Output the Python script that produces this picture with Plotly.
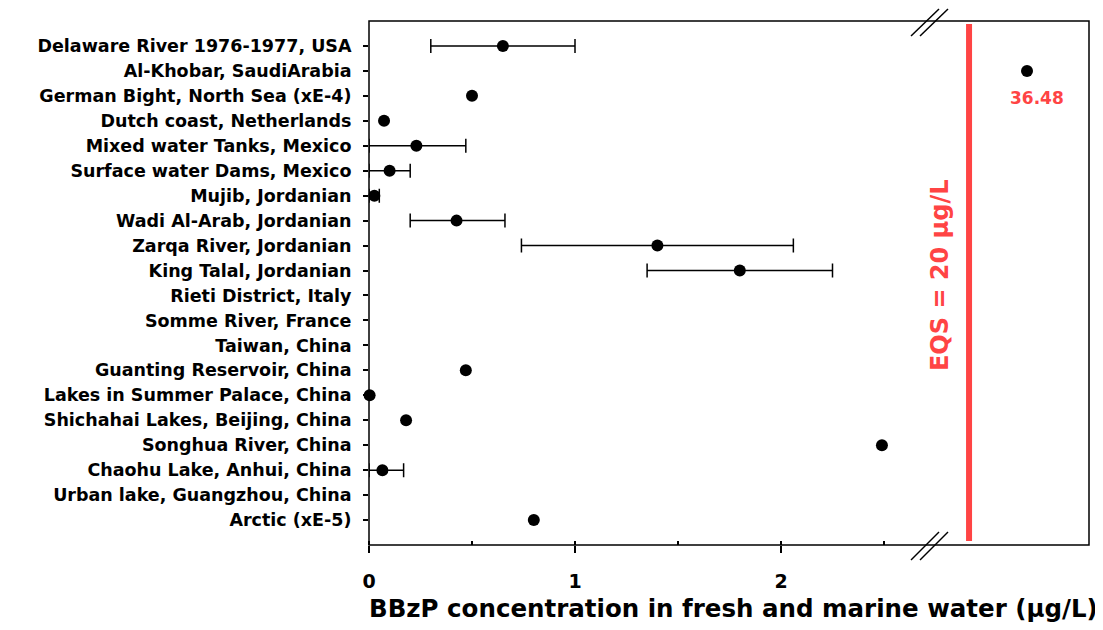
import plotly.graph_objects as go

sites = [
    "Delaware River 1976-1977, USA",
    "Al-Khobar, SaudiArabia",
    "German Bight, North Sea (xE-4)",
    "Dutch coast, Netherlands",
    "Mixed water Tanks, Mexico",
    "Surface water Dams, Mexico",
    "Mujib, Jordanian",
    "Wadi Al-Arab, Jordanian",
    "Zarqa River, Jordanian",
    "King Talal, Jordanian",
    "Rieti District, Italy",
    "Somme River, France",
    "Taiwan, China",
    "Guanting Reservoir, China",
    "Lakes in Summer Palace, China",
    "Shichahai Lakes, Beijing, China",
    "Songhua River, China",
    "Chaohu Lake, Anhui, China",
    "Urban lake, Guangzhou, China",
    "Arctic (xE-5)",
]
# mean values (None = no data); Al-Khobar drawn on the broken (upper) segment
mean_vals = [0.65, None, 0.50, 0.073, 0.23, 0.10, 0.026, 0.425, 1.40, 1.80,
             None, None, None, 0.47, 0.003, 0.18, 2.49, 0.065, None, 0.80]
err_plus = [0.35, 0, 0, 0, 0.24, 0.10, 0.024, 0.235, 0.66, 0.45,
            0, 0, 0, 0, 0, 0, 0, 0.103, 0, 0]
err_minus = [0.35, 0, 0, 0, 0.23, 0.10, 0.026, 0.225, 0.66, 0.45,
             0, 0, 0, 0, 0, 0, 0, 0.065, 0, 0]
high_site = "Al-Khobar, SaudiArabia"
high_val = 36.48
eqs_val = 20

RED = "#FF4444"
FONT = "DejaVu Sans, Arial, sans-serif"
idx = list(range(len(sites)))
high_idx = sites.index(high_site)

# split points with and without error bars
xe, ye, ep, em = [], [], [], []
xn, yn = [], []
for i, v in enumerate(mean_vals):
    if v is None:
        continue
    if err_plus[i] or err_minus[i]:
        xe.append(v); ye.append(i); ep.append(err_plus[i]); em.append(err_minus[i])
    else:
        xn.append(v); yn.append(i)

fig = go.Figure()
fig.add_trace(go.Scatter(
    x=xe, y=ye, mode="markers", xaxis="x", yaxis="y",
    marker=dict(color="black", size=12),
    error_x=dict(type="data", symmetric=False, array=ep, arrayminus=em,
                 color="black", thickness=1.5, width=7),
    showlegend=False, cliponaxis=False,
))
fig.add_trace(go.Scatter(
    x=xn, y=yn, mode="markers", xaxis="x", yaxis="y",
    marker=dict(color="black", size=12), showlegend=False, cliponaxis=False,
))
fig.add_trace(go.Scatter(
    x=[high_val], y=[high_idx], mode="markers", xaxis="x2", yaxis="y",
    marker=dict(color="black", size=12), showlegend=False,
))

# page body has an 8px margin; compensate
OFF = 8
d = (930 - 369) / 720
W, H = 720, 524

def px(xp):
    return (xp - 369) / W

def py(yp):
    return (545 - yp) / H

fig.update_layout(
    width=1103 - OFF, height=630 - OFF,
    margin=dict(l=369 - OFF, r=14, t=21 - OFF, b=85),
    paper_bgcolor="white", plot_bgcolor="white",
    font=dict(family=FONT, color="black"),
    xaxis=dict(domain=[0, d], range=[0, (930 - 369) / 206], showgrid=False,
               zeroline=False, tickvals=[0, 1, 2], ticktext=["0", "1", "2"],
               ticks="outside", ticklen=7, tickwidth=1.5, tickcolor="black",
               minor=dict(tick0=0, dtick=0.5, ticks="inside", ticklen=4,
                          tickwidth=1.5, tickcolor="black"),
               ticklabelstandoff=12,
               tickfont=dict(size=19, weight="bold"), anchor="y"),
    xaxis2=dict(domain=[d, 1], range=[8.9, 54.1], showgrid=False,
                zeroline=False, showticklabels=False, ticks="", anchor="y"),
    xaxis3=dict(overlaying="x", side="top", range=[0, (930 - 369) / 206],
                showgrid=False, zeroline=False, showticklabels=False,
                tickvals=[0.5, 1.5, 2.5], ticks="inside", ticklen=4,
                tickwidth=1.5, tickcolor="black", anchor="y"),
    yaxis=dict(range=[len(sites), -1], tickvals=idx, ticktext=sites,
               showgrid=False, zeroline=False, ticks="outside", ticklen=5,
               tickwidth=1.5, tickcolor="black", ticklabelstandoff=8,
               tickfont=dict(size=17.5, weight="bold"), anchor="x"),
)

shapes = [
    dict(type="rect", xref="paper", yref="paper", x0=0, x1=1, y0=0, y1=1,
         line=dict(color="black", width=1.5), layer="above"),
    dict(type="line", xref="x2", yref="paper", x0=eqs_val, x1=eqs_val,
         y0=py(541), y1=py(24), line=dict(color=RED, width=6)),
]
for (xa, ya, xb, yb) in [(911, 36, 939, 9), (920, 36, 948, 9),
                         (911, 560, 939, 532), (920, 560, 948, 532)]:
    shapes.append(dict(type="line", xref="paper", yref="paper",
                       x0=px(xa), y0=py(ya), x1=px(xb), y1=py(yb),
                       line=dict(color="black", width=1.5)))
fig.update_layout(shapes=shapes)

fig.add_annotation(xref="x2", yref="paper", x=eqs_val, y=py(275), xshift=-29,
                   text="EQS = 20 µg/L", textangle=-90, showarrow=False,
                   font=dict(size=24, color=RED, weight="bold"))
fig.add_annotation(xref="x2", yref="y", x=high_val, y=high_idx, xshift=10,
                   yshift=-27, text=f"{high_val:.2f}", showarrow=False,
                   font=dict(size=17, color=RED, weight="bold"))
fig.add_annotation(xref="paper", yref="paper", x=px(733), y=py(608),
                   text="BBzP concentration in fresh and marine water (µg/L)",
                   showarrow=False, xanchor="center", yanchor="middle",
                   font=dict(size=24.5, weight="bold"))

fig.write_html("out.html")
